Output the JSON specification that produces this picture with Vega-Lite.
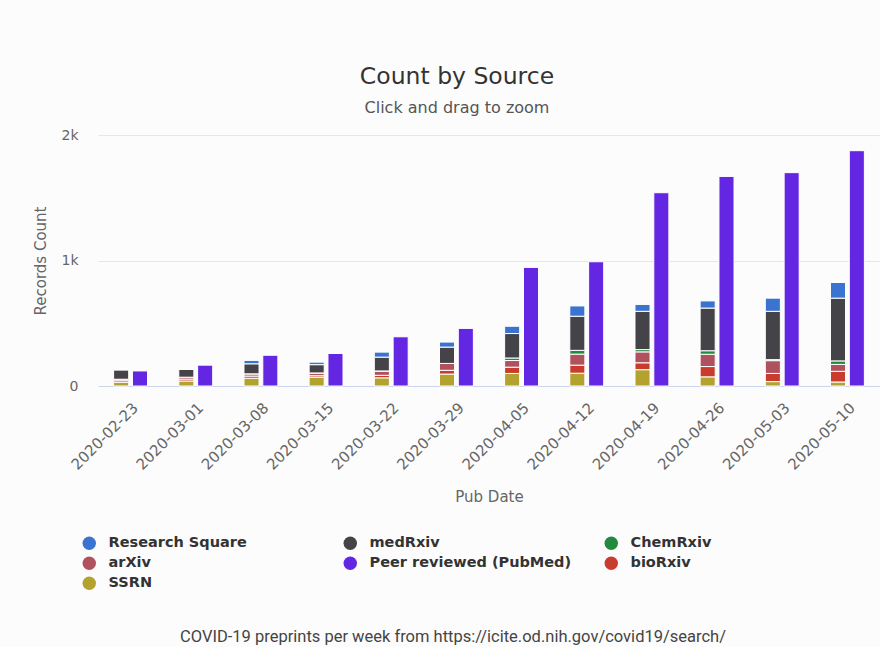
{
  "$schema": "https://vega.github.io/schema/vega-lite/v6.json",
  "background": "#fcfcfc",
  "padding": {"left": 33, "top": 64, "right": 0, "bottom": 0},
  "title": {
    "text": "Count by Source",
    "subtitle": "Click and drag to zoom",
    "anchor": "middle",
    "font": "DejaVu Sans",
    "fontSize": 23.5,
    "fontWeight": "normal",
    "color": "#333333",
    "subtitleFont": "DejaVu Sans",
    "subtitleFontSize": 16,
    "subtitleColor": "#555555",
    "subtitlePadding": 12,
    "offset": 12
  },
  "datasets": {
    "counts": [
      {"date": "2020-02-23", "group": "Preprints", "source": "SSRN", "count": 30},
      {"date": "2020-02-23", "group": "Preprints", "source": "bioRxiv", "count": 12},
      {"date": "2020-02-23", "group": "Preprints", "source": "arXiv", "count": 12},
      {"date": "2020-02-23", "group": "Preprints", "source": "ChemRxiv", "count": 0},
      {"date": "2020-02-23", "group": "Preprints", "source": "medRxiv", "count": 75},
      {"date": "2020-02-23", "group": "Preprints", "source": "Research Square", "count": 0},
      {"date": "2020-02-23", "group": "Peer reviewed", "source": "Peer reviewed (PubMed)", "count": 120},

      {"date": "2020-03-01", "group": "Preprints", "source": "SSRN", "count": 40},
      {"date": "2020-03-01", "group": "Preprints", "source": "bioRxiv", "count": 15},
      {"date": "2020-03-01", "group": "Preprints", "source": "arXiv", "count": 15},
      {"date": "2020-03-01", "group": "Preprints", "source": "ChemRxiv", "count": 0},
      {"date": "2020-03-01", "group": "Preprints", "source": "medRxiv", "count": 64},
      {"date": "2020-03-01", "group": "Preprints", "source": "Research Square", "count": 0},
      {"date": "2020-03-01", "group": "Peer reviewed", "source": "Peer reviewed (PubMed)", "count": 166},

      {"date": "2020-03-08", "group": "Preprints", "source": "SSRN", "count": 62},
      {"date": "2020-03-08", "group": "Preprints", "source": "bioRxiv", "count": 17},
      {"date": "2020-03-08", "group": "Preprints", "source": "arXiv", "count": 18},
      {"date": "2020-03-08", "group": "Preprints", "source": "ChemRxiv", "count": 0},
      {"date": "2020-03-08", "group": "Preprints", "source": "medRxiv", "count": 80},
      {"date": "2020-03-08", "group": "Preprints", "source": "Research Square", "count": 27},
      {"date": "2020-03-08", "group": "Peer reviewed", "source": "Peer reviewed (PubMed)", "count": 245},

      {"date": "2020-03-15", "group": "Preprints", "source": "SSRN", "count": 70},
      {"date": "2020-03-15", "group": "Preprints", "source": "bioRxiv", "count": 12},
      {"date": "2020-03-15", "group": "Preprints", "source": "arXiv", "count": 22},
      {"date": "2020-03-15", "group": "Preprints", "source": "ChemRxiv", "count": 0},
      {"date": "2020-03-15", "group": "Preprints", "source": "medRxiv", "count": 66},
      {"date": "2020-03-15", "group": "Preprints", "source": "Research Square", "count": 20},
      {"date": "2020-03-15", "group": "Peer reviewed", "source": "Peer reviewed (PubMed)", "count": 259},

      {"date": "2020-03-22", "group": "Preprints", "source": "SSRN", "count": 65},
      {"date": "2020-03-22", "group": "Preprints", "source": "bioRxiv", "count": 20},
      {"date": "2020-03-22", "group": "Preprints", "source": "arXiv", "count": 35},
      {"date": "2020-03-22", "group": "Preprints", "source": "ChemRxiv", "count": 0},
      {"date": "2020-03-22", "group": "Preprints", "source": "medRxiv", "count": 110},
      {"date": "2020-03-22", "group": "Preprints", "source": "Research Square", "count": 40},
      {"date": "2020-03-22", "group": "Peer reviewed", "source": "Peer reviewed (PubMed)", "count": 392},

      {"date": "2020-03-29", "group": "Preprints", "source": "SSRN", "count": 95},
      {"date": "2020-03-29", "group": "Preprints", "source": "bioRxiv", "count": 30},
      {"date": "2020-03-29", "group": "Preprints", "source": "arXiv", "count": 55},
      {"date": "2020-03-29", "group": "Preprints", "source": "ChemRxiv", "count": 0},
      {"date": "2020-03-29", "group": "Preprints", "source": "medRxiv", "count": 130},
      {"date": "2020-03-29", "group": "Preprints", "source": "Research Square", "count": 40},
      {"date": "2020-03-29", "group": "Peer reviewed", "source": "Peer reviewed (PubMed)", "count": 459},

      {"date": "2020-04-05", "group": "Preprints", "source": "SSRN", "count": 100},
      {"date": "2020-04-05", "group": "Preprints", "source": "bioRxiv", "count": 50},
      {"date": "2020-04-05", "group": "Preprints", "source": "arXiv", "count": 53},
      {"date": "2020-04-05", "group": "Preprints", "source": "ChemRxiv", "count": 20},
      {"date": "2020-04-05", "group": "Preprints", "source": "medRxiv", "count": 195},
      {"date": "2020-04-05", "group": "Preprints", "source": "Research Square", "count": 58},
      {"date": "2020-04-05", "group": "Peer reviewed", "source": "Peer reviewed (PubMed)", "count": 945},

      {"date": "2020-04-12", "group": "Preprints", "source": "SSRN", "count": 102},
      {"date": "2020-04-12", "group": "Preprints", "source": "bioRxiv", "count": 64},
      {"date": "2020-04-12", "group": "Preprints", "source": "arXiv", "count": 88},
      {"date": "2020-04-12", "group": "Preprints", "source": "ChemRxiv", "count": 30},
      {"date": "2020-04-12", "group": "Preprints", "source": "medRxiv", "count": 272},
      {"date": "2020-04-12", "group": "Preprints", "source": "Research Square", "count": 82},
      {"date": "2020-04-12", "group": "Peer reviewed", "source": "Peer reviewed (PubMed)", "count": 990},

      {"date": "2020-04-19", "group": "Preprints", "source": "SSRN", "count": 130},
      {"date": "2020-04-19", "group": "Preprints", "source": "bioRxiv", "count": 55},
      {"date": "2020-04-19", "group": "Preprints", "source": "arXiv", "count": 87},
      {"date": "2020-04-19", "group": "Preprints", "source": "ChemRxiv", "count": 18},
      {"date": "2020-04-19", "group": "Preprints", "source": "medRxiv", "count": 305},
      {"date": "2020-04-19", "group": "Preprints", "source": "Research Square", "count": 55},
      {"date": "2020-04-19", "group": "Peer reviewed", "source": "Peer reviewed (PubMed)", "count": 1540},

      {"date": "2020-04-26", "group": "Preprints", "source": "SSRN", "count": 73},
      {"date": "2020-04-26", "group": "Preprints", "source": "bioRxiv", "count": 82},
      {"date": "2020-04-26", "group": "Preprints", "source": "arXiv", "count": 98},
      {"date": "2020-04-26", "group": "Preprints", "source": "ChemRxiv", "count": 28},
      {"date": "2020-04-26", "group": "Preprints", "source": "medRxiv", "count": 340},
      {"date": "2020-04-26", "group": "Preprints", "source": "Research Square", "count": 57},
      {"date": "2020-04-26", "group": "Peer reviewed", "source": "Peer reviewed (PubMed)", "count": 1670},

      {"date": "2020-05-03", "group": "Preprints", "source": "SSRN", "count": 35},
      {"date": "2020-05-03", "group": "Preprints", "source": "bioRxiv", "count": 65},
      {"date": "2020-05-03", "group": "Preprints", "source": "arXiv", "count": 102},
      {"date": "2020-05-03", "group": "Preprints", "source": "ChemRxiv", "count": 8},
      {"date": "2020-05-03", "group": "Preprints", "source": "medRxiv", "count": 385},
      {"date": "2020-05-03", "group": "Preprints", "source": "Research Square", "count": 105},
      {"date": "2020-05-03", "group": "Peer reviewed", "source": "Peer reviewed (PubMed)", "count": 1700},

      {"date": "2020-05-10", "group": "Preprints", "source": "SSRN", "count": 32},
      {"date": "2020-05-10", "group": "Preprints", "source": "bioRxiv", "count": 85},
      {"date": "2020-05-10", "group": "Preprints", "source": "arXiv", "count": 55},
      {"date": "2020-05-10", "group": "Preprints", "source": "ChemRxiv", "count": 28},
      {"date": "2020-05-10", "group": "Preprints", "source": "medRxiv", "count": 500},
      {"date": "2020-05-10", "group": "Preprints", "source": "Research Square", "count": 125},
      {"date": "2020-05-10", "group": "Peer reviewed", "source": "Peer reviewed (PubMed)", "count": 1875}
    ],
    "caption": [
      {"text": "COVID-19 preprints per week from https://icite.od.nih.gov/covid19/search/"}
    ]
  },
  "vconcat": [
    {
      "width": 782,
      "height": 251,
      "data": {"name": "counts"},
      "transform": [
        {"calculate": "indexof(['SSRN','bioRxiv','arXiv','ChemRxiv','medRxiv','Research Square','Peer reviewed (PubMed)'], datum.source)", "as": "stack_rank"}
      ],
      "mark": {"type": "bar", "stroke": "white", "strokeWidth": 1},
      "encoding": {
        "x": {
          "field": "date",
          "type": "ordinal",
          "title": "Pub Date",
          "scale": {"paddingInner": 0.48, "paddingOuter": 0.24},
          "axis": {
            "labelAngle": -45,
            "labelFont": "DejaVu Sans",
            "labelFontSize": 15,
            "labelColor": "#666666",
            "labelPadding": 14,
            "ticks": false,
            "domainColor": "#ccd6eb",
            "titleFont": "DejaVu Sans",
            "titleFontSize": 15,
            "titleFontWeight": "normal",
            "titleColor": "#666666",
            "titlePadding": 17
          }
        },
        "xOffset": {
          "field": "group",
          "type": "nominal",
          "sort": ["Preprints", "Peer reviewed"],
          "scale": {"paddingInner": 0.2}
        },
        "y": {
          "field": "count",
          "type": "quantitative",
          "stack": "zero",
          "title": "Records Count",
          "scale": {"domain": [0, 2000], "nice": false},
          "axis": {
            "values": [0, 1000, 2000],
            "labelExpr": "datum.value == 0 ? '0' : (datum.value / 1000) + 'k'",
            "labelFont": "DejaVu Sans",
            "labelFontSize": 14,
            "labelColor": "#666666",
            "labelPadding": 20,
            "ticks": false,
            "domain": false,
            "gridColor": "#e6e6e6",
            "titleFont": "DejaVu Sans",
            "titleFontSize": 15,
            "titleFontWeight": "normal",
            "titleColor": "#666666",
            "titlePadding": 12
          }
        },
        "color": {
          "field": "source",
          "type": "nominal",
          "scale": {
            "domain": ["Research Square", "medRxiv", "ChemRxiv", "arXiv", "Peer reviewed (PubMed)", "bioRxiv", "SSRN"],
            "range": ["#3a74d0", "#434348", "#22893f", "#b0525e", "#6326e3", "#c93b2d", "#b3a22d"]
          },
          "legend": {
            "title": null,
            "orient": "none",
            "legendX": -16,
            "legendY": 401,
            "direction": "horizontal",
            "columns": 3,
            "gridAlign": "all",
            "columnPadding": 32,
            "rowPadding": 5,
            "symbolType": "circle",
            "symbolSize": 180,
            "symbolStrokeWidth": 0,
            "labelFont": "DejaVu Sans",
            "labelFontSize": 14.5,
            "labelFontWeight": "bold",
            "labelColor": "#333333",
            "labelOffset": 12,
            "labelLimit": 300
          }
        },
        "order": {"field": "stack_rank", "type": "quantitative", "sort": "ascending"}
      }
    },
    {
      "width": 710,
      "height": 20,
      "data": {"name": "caption"},
      "mark": {"type": "text", "font": "Roboto", "fontSize": 16.5, "color": "#444444"},
      "encoding": {"text": {"field": "text", "type": "nominal"}}
    }
  ],
  "resolve": {"scale": {"color": "independent"}, "legend": {"color": "independent"}},
  "spacing": 37,
  "config": {"view": {"stroke": null}}
}
